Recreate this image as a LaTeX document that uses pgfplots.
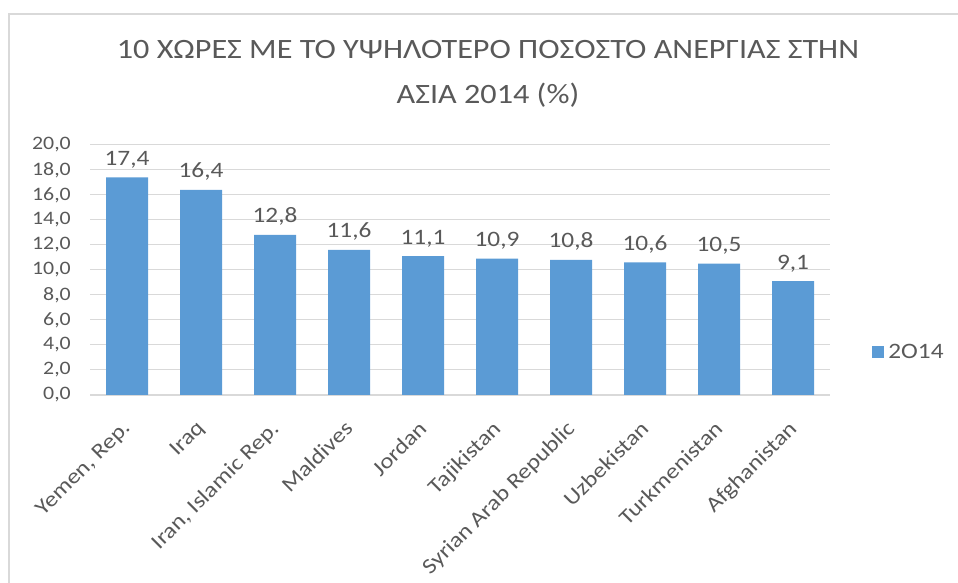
\documentclass[border=0pt]{standalone}
\usepackage{pgfplots}
\pgfplotsset{compat=1.18}
\usepackage{fontspec}
\setmainfont[FakeStretch=1.15]{Carlito}
\definecolor{barblue}{HTML}{5B9BD5}
\definecolor{txt}{HTML}{595959}
\definecolor{gridgray}{HTML}{D9D9D9}
\begin{document}
\begin{tikzpicture}[x=1bp,y=1bp]
\path[use as bounding box] (0,0) rectangle (958,583);
\draw[gridgray, line width=2.5bp] (9,0) -- (9,569) -- (958,569);
\node[anchor=base, text=txt, font=\fontsize{28bp}{32bp}\selectfont] at (488,524) {10 ΧΩΡΕΣ ΜΕ ΤΟ ΥΨΗΛΟΤΕΡΟ ΠΟΣΟΣΤΟ ΑΝΕΡΓΙΑΣ ΣΤΗΝ};
\node[anchor=base, text=txt, font=\fontsize{28bp}{32bp}\selectfont] at (488,479) {ΑΣΙΑ 2014 (\%)};
\begin{axis}[
  at={(90bp,188bp)}, anchor=south west,
  scale only axis, width=740bp, height=250bp,
  xmin=-0.5, xmax=9.5, ymin=0, ymax=20,
  ytick={0,2,...,20},
  xtick=data,
  xticklabels={Yemen{,} Rep.,Iraq,Iran{,} Islamic Rep.,Maldives,Jordan,Tajikistan,Syrian Arab Republic,Uzbekistan,Turkmenistan,Afghanistan},
  axis x line*=bottom, axis y line*=left,
  y axis line style={draw=none},
  x axis line style={draw=gridgray, line width=1.5bp, -},
  ymajorgrids, xmajorgrids=false, grid style={draw=gridgray, line width=1bp},
  major tick length=0pt,
  ybar, bar width=42bp,
  /pgf/number format/.cd, fixed, fixed zerofill, precision=1, use comma, assume math mode=true,
  /pgfplots/.cd,
  yticklabel style={text=txt, font=\fontsize{19bp}{22bp}\selectfont, inner sep=2bp, xshift=-17bp},
  xticklabel style={text=txt, font=\fontsize{21.5bp}{24bp}\selectfont, rotate=45, anchor=north east, inner sep=1bp, xshift=-20bp, yshift=-12bp},
  nodes near coords,
  every node near coord/.append style={text=txt, font=\fontsize{22bp}{24bp}\selectfont, inner sep=3bp, yshift=6bp, /pgf/number format/.cd, fixed, fixed zerofill, precision=1, use comma, assume math mode=true},
  legend style={at={(1.057,0.17)}, anchor=west, draw=none, fill=none, text=txt, font=\fontsize{22bp}{24bp}\selectfont, legend cell align=left, inner sep=0pt, nodes={inner sep=4bp}},
  legend image code/.code={\fill[barblue] (0bp,-6bp) rectangle (12bp,6bp);},
  clip=false,
]
\addplot[fill=barblue, draw=none] coordinates {
(0,17.4) (1,16.4) (2,12.8) (3,11.6) (4,11.1) (5,10.9) (6,10.8) (7,10.6) (8,10.5) (9,9.1)};
\legend{2O14}
\end{axis}
\end{tikzpicture}
\end{document}
